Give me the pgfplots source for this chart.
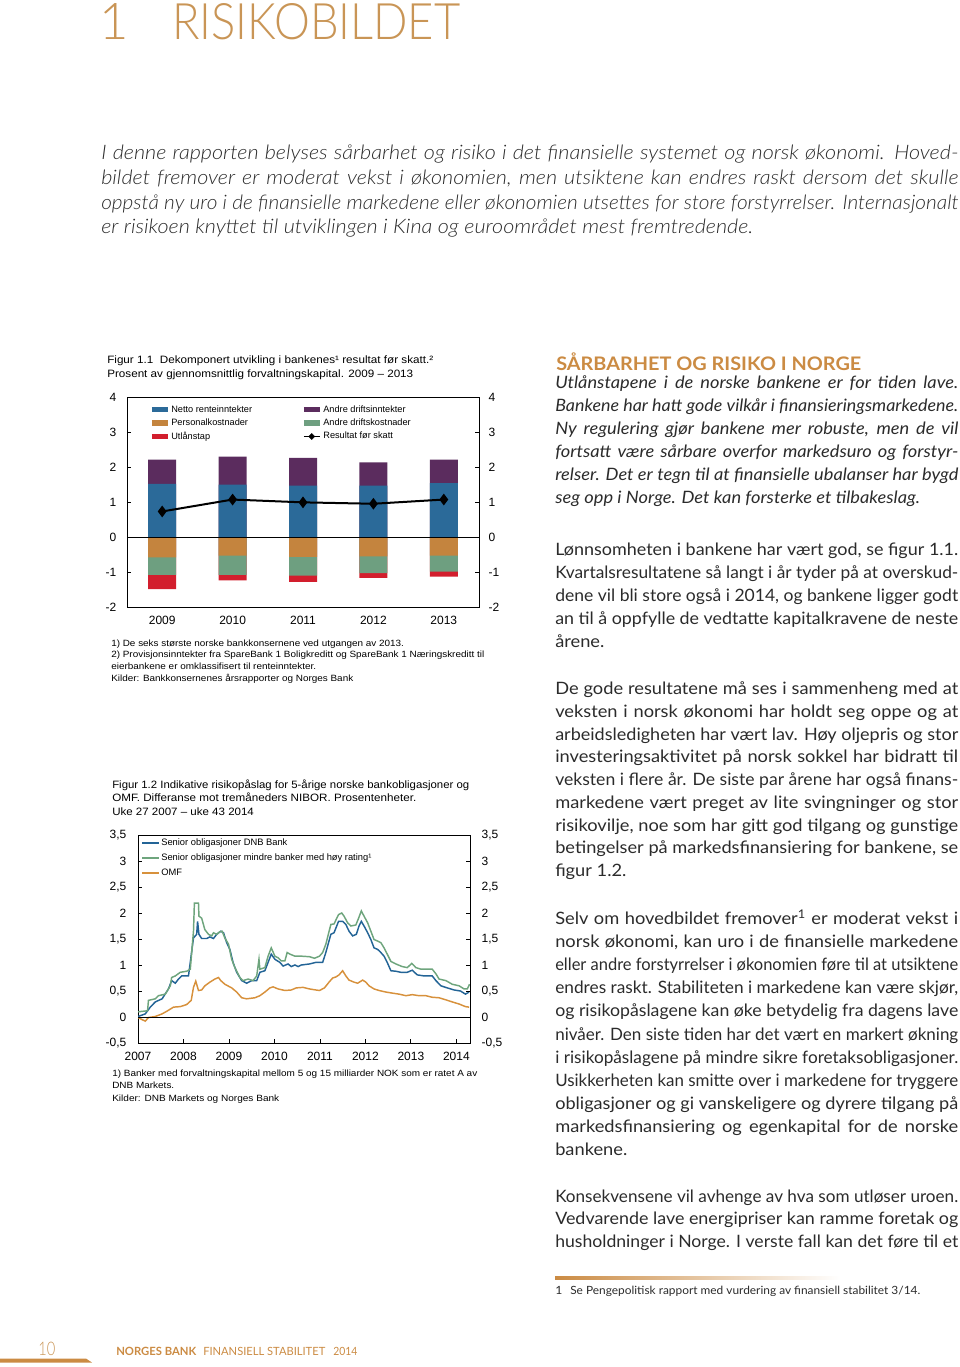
\documentclass[border=0pt]{standalone}
\usepackage{fontspec}
\usepackage{pgfplots}
\pgfplotsset{compat=1.18}
\usepackage{graphicx}
\setmainfont{Lato}[FakeStretch=1.07]
\newfontfamily\latolight{Lato Light}
\newfontfamily\latolightw{Lato Light}[FakeStretch=1.08]
\newfontfamily\chartfont{Liberation Sans}
\definecolor{gold}{HTML}{C99556}
\definecolor{goldb}{HTML}{CB8B43}
\definecolor{bodytext}{HTML}{2B2B2B}
\definecolor{cblue}{HTML}{2B6A99}
\definecolor{cpurple}{HTML}{5B2C5E}
\definecolor{corange}{HTML}{C4843E}
\definecolor{cgreen}{HTML}{6E9F80}
\definecolor{cred}{HTML}{D21E2D}
\definecolor{lblue}{HTML}{236496}
\definecolor{lgreen}{HTML}{6EA57D}
\definecolor{lorange}{HTML}{D7913C}
\newsavebox\lbox
\newcommand\jline[2]{\sbox\lbox{#2}\ifdim\wd\lbox>#1\relax\resizebox{#1}{\height}{\usebox\lbox}\else\makebox[#1][s]{#2}\fi}
\newcommand\fitw[2]{\sbox\lbox{#2}\resizebox{#1}{\height}{\usebox\lbox}}
\newcommand\bodyfont{\fontsize{12.8}{14}\selectfont\color{bodytext}}
\newcommand\colW{302.25pt}
\newcommand\bjl[2]{\node[anchor=base west,inner sep=0pt] at (555,#1) {\bodyfont\jline{\colW}{#2}};}
\newcommand\bnl[2]{\node[anchor=base west,inner sep=0pt] at (555,#1) {\bodyfont #2};}
\newcommand\ijl[2]{\node[anchor=base west,inner sep=0pt] at (555,#1) {\bodyfont\itshape\jline{\colW}{#2}};}
\newcommand\inl[2]{\node[anchor=base west,inner sep=0pt] at (555,#1) {\bodyfont\itshape #2};}
\newcommand\introfont{\latolightw\itshape\fontsize{15}{17}\selectfont\color{bodytext}}
\newcommand\introl[2]{\node[anchor=base west,inner sep=0pt] at (101,#1) {\introfont\jline{642.75pt}{#2}};}
\newcommand\ctl[4]{\node[anchor=base west,inner sep=0pt] at (#1,#2) {\chartfont\fontsize{8}{9}\selectfont\fitw{#3}{#4}};}
\newcommand\cfl[4]{\node[anchor=base west,inner sep=0pt] at (#1,#2) {\chartfont\fontsize{6.8}{8}\selectfont\fitw{#3}{#4}};}
\begin{document}
\begin{tikzpicture}
\begin{scope}[x=0.75pt,y=-0.75pt]
\useasboundingbox (0,0) rectangle (960,1367);
% title
\node[anchor=base west,inner sep=0pt,text=gold] at (99,39) {\resizebox{!}{27pt}{\latolight 1}};
\node[anchor=base west,inner sep=0pt,text=gold] at (172,39) {\resizebox{216pt}{27pt}{\latolight RISIKOBILDET}};
% intro
\introl{159}{I denne rapporten belyses sårbarhet og risiko i det finansielle systemet og norsk økonomi. Hoved-}
\introl{184}{bildet fremover er moderat vekst i økonomien, men utsiktene kan endres raskt dersom det skulle}
\introl{209}{oppstå ny uro i de finansielle markedene eller økonomien utsettes for store forstyrrelser. Internasjonalt}
\node[anchor=base west,inner sep=0pt] at (101,233) {\introfont er risikoen knyttet til utviklingen i Kina og euroområdet mest fremtredende.};
% right column
\node[anchor=base west,inner sep=0pt] at (556,370) {\fontsize{14}{16}\selectfont\bfseries\color{goldb}\fitw{228.75pt}{SÅRBARHET OG RISIKO I NORGE}};
\ijl{388}{Utlånstapene i de norske bankene er for tiden lave.}
\ijl{411}{Bankene har hatt gode vilkår i finansieringsmarkedene.}
\ijl{434}{Ny regulering gjør bankene mer robuste, men de vil}
\ijl{457}{fortsatt være sårbare overfor markedsuro og forstyr-}
\ijl{480}{relser. Det er tegn til at finansielle ubalanser har bygd}
\inl{503}{seg opp i Norge. Det kan forsterke et tilbakeslag.}
\bjl{555}{Lønnsomheten i bankene har vært god, se figur 1.1.}
\bjl{578}{Kvartalsresultatene så langt i år tyder på at overskud-}
\bjl{601}{dene vil bli store også i 2014, og bankene ligger godt}
\bjl{624}{an til å oppfylle de vedtatte kapitalkravene de neste}
\bnl{647}{årene.}
\bjl{694}{De gode resultatene må ses i sammenheng med at}
\bjl{717}{veksten i norsk økonomi har holdt seg oppe og at}
\bjl{740}{arbeidsledigheten har vært lav. Høy oljepris og stor}
\bjl{762}{investeringsaktivitet på norsk sokkel har bidratt til}
\bjl{785}{veksten i flere år. De siste par årene har også finans-}
\bjl{808}{markedene vært preget av lite svingninger og stor}
\bjl{831}{risikovilje, noe som har gitt god tilgang og gunstige}
\bjl{853}{betingelser på markedsfinansiering for bankene, se}
\bnl{876}{figur 1.2.}
\bjl{924}{Selv om hovedbildet fremover\textsuperscript{1} er moderat vekst i}
\bjl{947}{norsk økonomi, kan uro i de finansielle markedene}
\bjl{970}{eller andre forstyrrelser i økonomien føre til at utsiktene}
\bjl{993}{endres raskt. Stabiliteten i markedene kan være skjør,}
\bjl{1016}{og risikopåslagene kan øke betydelig fra dagens lave}
\bjl{1040}{nivåer. Den siste tiden har det vært en markert økning}
\bjl{1063}{i risikopåslagene på mindre sikre foretaksobligasjoner.}
\bjl{1086}{Usikkerheten kan smitte over i markedene for tryggere}
\bjl{1109}{obligasjoner og gi vanskeligere og dyrere tilgang på}
\bjl{1132}{markedsfinansiering og egenkapital for de norske}
\bnl{1155}{bankene.}
\bjl{1202}{Konsekvensene vil avhenge av hva som utløser uroen.}
\bjl{1224.5}{Vedvarende lave energipriser kan ramme foretak og}
\bjl{1247}{husholdninger i Norge. I verste fall kan det føre til et}
% footnote
\shade[left color=goldb, right color=white] (555,1276) rectangle (840,1279);
\node[anchor=base west,inner sep=0pt] at (555,1294) {\fontsize{8.5}{10}\selectfont\color{bodytext}1};
\node[anchor=base west,inner sep=0pt] at (570,1294) {\fontsize{8.5}{10}\selectfont\color{bodytext}\fitw{262.5pt}{Se Pengepolitisk rapport med vurdering av finansiell stabilitet 3/14.}};
% footer
\fill[goldb] (0,1358.5) -- (86,1358.5) -- (92,1362.5) -- (0,1362.5) -- cycle;
\node[anchor=base west,inner sep=0pt] at (38,1355) {\latolight\fontsize{14}{16}\selectfont\color{gold}\fitw{12.75pt}{10}};
\node[anchor=base west,inner sep=0pt] at (116,1355) {\fontsize{8.5}{10}\selectfont\bfseries\color{goldb}\fitw{60pt}{NORGES BANK}};
\node[anchor=base west,inner sep=0pt] at (203,1355) {\fontsize{8.5}{10}\selectfont\color{goldb}\fitw{91.5pt}{FINANSIELL STABILITET}};
\node[anchor=base west,inner sep=0pt] at (333,1355) {\fontsize{8.5}{10}\selectfont\color{goldb}\fitw{18pt}{2014}};
% chart 1 texts
\ctl{107}{363}{244.5pt}{Figur 1.1\ \ Dekomponert utvikling i bankenes¹ resultat før skatt.²}
\ctl{107}{377}{229.5pt}{Prosent av gjennomsnittlig forvaltningskapital. 2009 – 2013}
\cfl{111}{646}{219.5pt}{1) De seks største norske bankkonsernene ved utgangen av 2013.}
\cfl{111}{657}{279.75pt}{2) Provisjonsinntekter fra SpareBank 1 Boligkreditt og SpareBank 1 Næringskreditt til}
\cfl{111}{669}{153.75pt}{eierbankene er omklassifisert til renteinntekter.}
\cfl{111}{681.5}{181.5pt}{Kilder: Bankkonsernenes årsrapporter og Norges Bank}
% chart 2 texts
\ctl{112}{788}{267.75pt}{Figur 1.2 Indikative risikopåslag for 5-årige norske bankobligasjoner og}
\ctl{112}{801.5}{228pt}{OMF. Differanse mot tremåneders NIBOR. Prosentenheter.}
\ctl{112}{815}{106.25pt}{Uke 27 2007 – uke 43 2014}
\cfl{112}{1076.5}{273.75pt}{1) Banker med forvaltningskapital mellom 5 og 15 milliarder NOK som er ratet A av}
\cfl{112}{1088.5}{46.5pt}{DNB Markets.}
\cfl{112}{1101}{125.25pt}{Kilder: DNB Markets og Norges Bank}
\end{scope}

% ---------- Chart 1 ----------
\begin{axis}[at={(95.25pt,-297.75pt)}, anchor=north west, scale only axis,
  width=264pt, height=157.5pt,
  xmin=-0.5, xmax=4.5, ymin=-2, ymax=4,
  xtick={0,1,2,3,4}, xticklabels={2009,2010,2011,2012,2013},
  xtick style={draw=none},
  ytick={-2,-1,0,1,2,3,4}, ytick pos=left,
  tick align=inside, major tick length=3pt,
  axis line style={black, line width=0.6pt},
  tick style={black, line width=0.6pt},
  ticklabel style={font=\chartfont\fontsize{9}{10}\selectfont},
  /pgf/number format/assume math mode=true,
  xticklabel style={yshift=-3.5pt},
  yticklabel style={xshift=-4.5pt},
  legend columns=2, legend cell align=left,
  legend style={at={(0.062,0.966)}, anchor=north west, draw=none, fill=none,
    font=\chartfont\fontsize{6.9}{7.5}\selectfont, inner sep=0pt,
    nodes={inner sep=0.7pt}, row sep=2pt,
    /tikz/every even column/.append style={column sep=36pt}},
]
\addlegendimage{legend image code/.code={\draw[line width=4pt, cblue] (0pt,0pt) -- (12pt,0pt);}}
\addlegendentry{Netto renteinntekter}
\addlegendimage{legend image code/.code={\draw[line width=4pt, cpurple] (0pt,0pt) -- (12pt,0pt);}}
\addlegendentry{Andre driftsinntekter}
\addlegendimage{legend image code/.code={\draw[line width=4pt, corange] (0pt,0pt) -- (12pt,0pt);}}
\addlegendentry{Personalkostnader}
\addlegendimage{legend image code/.code={\draw[line width=4pt, cgreen] (0pt,0pt) -- (12pt,0pt);}}
\addlegendentry{Andre driftskostnader}
\addlegendimage{legend image code/.code={\draw[line width=4pt, cred] (0pt,0pt) -- (12pt,0pt);}}
\addlegendentry{Utlånstap}
\addlegendimage{legend image code/.code={\draw[line width=1pt, black] (0pt,0pt) -- (12pt,0pt); \fill[black] (6pt,2.2pt) -- (8.2pt,0pt) -- (6pt,-2.2pt) -- (3.8pt,0pt) -- cycle;}}
\addlegendentry{Resultat før skatt}
\addplot[ybar, bar width=21pt, bar shift=0pt, fill=cpurple, draw=none, forget plot]
  coordinates {(0,2.21) (1,2.30) (2,2.26) (3,2.13) (4,2.21)};
\addplot[ybar, bar width=21pt, bar shift=0pt, fill=cblue, draw=none, forget plot]
  coordinates {(0,1.52) (1,1.50) (2,1.47) (3,1.47) (4,1.54)};
\addplot[ybar, bar width=21pt, bar shift=0pt, fill=cred, draw=none, forget plot]
  coordinates {(0,-1.49) (1,-1.24) (2,-1.28) (3,-1.17) (4,-1.13)};
\addplot[ybar, bar width=21pt, bar shift=0pt, fill=cgreen, draw=none, forget plot]
  coordinates {(0,-1.08) (1,-1.08) (2,-1.10) (3,-1.03) (4,-0.99)};
\addplot[ybar, bar width=21pt, bar shift=0pt, fill=corange, draw=none, forget plot]
  coordinates {(0,-0.58) (1,-0.53) (2,-0.57) (3,-0.55) (4,-0.53)};
\addplot[black, line width=0.6pt, forget plot] coordinates {(-0.5,0) (4.5,0)};
\addplot[black, line width=1.5pt, mark=diamond*, mark size=3.2pt, forget plot]
  coordinates {(0,0.73) (1,1.07) (2,0.99) (3,0.95) (4,1.07)};
\end{axis}
\begin{axis}[at={(95.25pt,-297.75pt)}, anchor=north west, scale only axis,
  width=264pt, height=157.5pt,
  xmin=-0.5, xmax=4.5, ymin=-2, ymax=4,
  axis x line=none, axis y line*=right,
  ytick={-2,-1,0,1,2,3,4},
  tick align=inside, major tick length=3pt,
  axis line style={black, line width=0.6pt},
  tick style={black, line width=0.6pt},
  ticklabel style={font=\chartfont\fontsize{9}{10}\selectfont},
  /pgf/number format/assume math mode=true,
  yticklabel style={xshift=3.75pt},
]
\addplot[draw=none] coordinates {(0,0)};
\end{axis}

% ---------- Chart 2 ----------
\begin{axis}[at={(103.5pt,-626.25pt)}, anchor=north west, scale only axis,
  width=249pt, height=156pt,
  xmin=2007.5, xmax=2014.8, ymin=-0.5, ymax=3.5,
  xtick={2007.5,2008.5,2009.5,2010.5,2011.5,2012.5,2013.5,2014.5},
  xticklabels={2007,2008,2009,2010,2011,2012,2013,2014},
  xtick pos=left, ytick pos=left,
  ytick={-0.5,0,0.5,1,1.5,2,2.5,3,3.5},
  tick align=inside, major tick length=3pt,
  axis line style={black, line width=0.6pt},
  tick style={black, line width=0.6pt},
  ticklabel style={font=\chartfont\fontsize{9}{10}\selectfont},
  /pgf/number format/assume math mode=true,
  /pgf/number format/use comma,
  xticklabel style={yshift=-3.5pt},
  yticklabel style={xshift=-5.25pt},
  legend cell align=left,
  legend style={at={(0.009,0.99)}, anchor=north west, draw=none, fill=none,
    font=\chartfont\fontsize{7}{8}\selectfont, inner sep=0pt,
    nodes={inner sep=1pt}, row sep=2.6pt},
  legend image code/.code={\draw[#1, line width=1.3pt] (0pt,0pt) -- (12.75pt,0pt);},
]
\addplot[lblue, line width=1.1pt] coordinates {
(2007.50,0.01) (2007.66,0.06) (2007.77,0.19) (2007.88,0.29) (2008.03,0.35) (2008.17,0.54)
(2008.24,0.70) (2008.32,0.65) (2008.39,0.73) (2008.46,0.79) (2008.61,0.79) (2008.72,1.52)
(2008.79,1.59) (2008.81,1.84) (2008.84,1.59) (2008.90,1.51) (2009.01,1.51) (2009.08,1.54)
(2009.16,1.51) (2009.23,1.59) (2009.32,1.65) (2009.38,1.62) (2009.45,1.43) (2009.52,1.30)
(2009.59,1.05) (2009.67,0.86) (2009.78,0.70) (2009.89,0.65) (2010.00,0.70) (2010.11,0.70)
(2010.18,0.86) (2010.29,0.89) (2010.36,1.05) (2010.43,1.21) (2010.51,1.11) (2010.62,1.05)
(2010.69,0.98) (2010.80,1.02) (2010.87,0.97) (2010.95,1.00) (2011.02,0.97) (2011.09,1.00)
(2011.27,1.02) (2011.41,1.05) (2011.56,1.05) (2011.63,1.24) (2011.74,1.59) (2011.81,1.62)
(2011.91,1.84) (2012.00,1.84) (2012.07,1.78) (2012.14,1.65) (2012.22,1.56) (2012.30,1.59)
(2012.36,1.75) (2012.41,1.84) (2012.47,1.75) (2012.55,1.62) (2012.62,1.49) (2012.69,1.33)
(2012.77,1.30) (2012.84,1.24) (2012.91,1.17) (2012.98,1.05) (2013.06,0.89) (2013.17,0.88)
(2013.28,0.86) (2013.42,0.86) (2013.53,0.90) (2013.64,0.81) (2013.79,0.79) (2013.97,0.79)
(2014.05,0.70) (2014.16,0.60) (2014.30,0.56) (2014.45,0.52) (2014.59,0.50) (2014.70,0.44)
(2014.78,0.48)};
\addlegendentry{Senior obligasjoner DNB Bank}
\addplot[lgreen, line width=1.1pt] coordinates {
(2007.50,0.10) (2007.71,0.12) (2007.73,0.32) (2007.88,0.35) (2007.95,0.41) (2008.10,0.44)
(2008.21,0.60) (2008.24,0.76) (2008.32,0.79) (2008.43,0.86) (2008.57,0.88) (2008.65,0.92)
(2008.72,1.65) (2008.74,2.19) (2008.83,2.19) (2008.84,1.94) (2008.90,1.90) (2008.97,1.68)
(2009.05,1.59) (2009.12,1.56) (2009.16,1.62) (2009.23,1.59) (2009.30,1.64) (2009.35,1.65)
(2009.41,1.52) (2009.49,1.40) (2009.56,1.11) (2009.63,0.95) (2009.74,0.76) (2009.81,0.70)
(2009.92,0.73) (2010.03,0.70) (2010.11,0.79) (2010.16,1.11) (2010.18,0.92) (2010.29,0.95)
(2010.36,1.17) (2010.43,1.33) (2010.51,1.17) (2010.58,1.14) (2010.65,1.08) (2010.73,1.08)
(2010.78,1.24) (2010.84,1.21) (2010.95,1.17) (2011.09,1.17) (2011.27,1.16) (2011.38,1.13)
(2011.49,1.17) (2011.56,1.24) (2011.63,1.40) (2011.74,1.78) (2011.81,1.79) (2011.91,1.97)
(2011.98,2.00) (2012.03,1.94) (2012.11,1.81) (2012.18,1.75) (2012.29,1.77) (2012.35,1.90)
(2012.41,2.04) (2012.47,1.94) (2012.55,1.81) (2012.62,1.65) (2012.69,1.49) (2012.77,1.46)
(2012.84,1.43) (2012.91,1.33) (2012.98,1.21) (2013.06,1.07) (2013.17,1.02) (2013.31,0.97)
(2013.42,0.95) (2013.52,1.03) (2013.61,0.95) (2013.72,0.92) (2013.83,0.92) (2013.97,0.92)
(2014.05,0.83) (2014.12,0.73) (2014.27,0.70) (2014.41,0.63) (2014.56,0.60) (2014.67,0.54)
(2014.74,0.54) (2014.79,0.63)};
\addlegendentry{Senior obligasjoner mindre banker med høy rating¹}
\addplot[lorange, line width=1.1pt] coordinates {
(2007.50,-0.01) (2007.59,-0.05) (2007.66,-0.08) (2007.73,-0.01) (2007.88,0.01) (2008.03,0.06)
(2008.17,0.13) (2008.28,0.19) (2008.43,0.20) (2008.57,0.24) (2008.67,0.32) (2008.72,0.57)
(2008.77,0.69) (2008.83,0.51) (2008.90,0.52) (2008.97,0.60) (2009.08,0.67) (2009.19,0.73)
(2009.27,0.76) (2009.32,0.70) (2009.41,0.63) (2009.56,0.56) (2009.67,0.48) (2009.78,0.37)
(2009.89,0.35) (2010.07,0.37) (2010.18,0.41) (2010.29,0.48) (2010.40,0.56) (2010.47,0.58)
(2010.58,0.54) (2010.73,0.51) (2010.87,0.52) (2010.98,0.56) (2011.13,0.57) (2011.27,0.54)
(2011.41,0.52) (2011.49,0.51) (2011.60,0.56) (2011.70,0.67) (2011.78,0.75) (2011.85,0.77)
(2011.92,0.81) (2012.00,0.89) (2012.07,0.79) (2012.14,0.71) (2012.25,0.67) (2012.33,0.65)
(2012.44,0.71) (2012.51,0.67) (2012.58,0.60) (2012.69,0.54) (2012.80,0.51) (2012.95,0.48)
(2013.09,0.46) (2013.24,0.44) (2013.39,0.41) (2013.53,0.43) (2013.68,0.41) (2013.83,0.41)
(2013.97,0.38) (2014.12,0.37) (2014.27,0.33) (2014.41,0.29) (2014.56,0.25) (2014.70,0.20)
(2014.78,0.19)};
\addlegendentry{OMF}
\addplot[black, line width=0.6pt, forget plot] coordinates {(2007.5,0) (2014.8,0)};
\end{axis}
\begin{axis}[at={(103.5pt,-626.25pt)}, anchor=north west, scale only axis,
  width=249pt, height=156pt,
  xmin=2007.5, xmax=2014.8, ymin=-0.5, ymax=3.5,
  axis x line=none, axis y line*=right,
  ytick={-0.5,0,0.5,1,1.5,2,2.5,3,3.5},
  tick align=inside, major tick length=3pt,
  axis line style={black, line width=0.6pt},
  tick style={black, line width=0.6pt},
  ticklabel style={font=\chartfont\fontsize{9}{10}\selectfont},
  /pgf/number format/assume math mode=true,
  /pgf/number format/use comma,
  yticklabel style={xshift=5.25pt},
]
\addplot[draw=none] coordinates {(2010,0)};
\end{axis}
\end{tikzpicture}
\end{document}
